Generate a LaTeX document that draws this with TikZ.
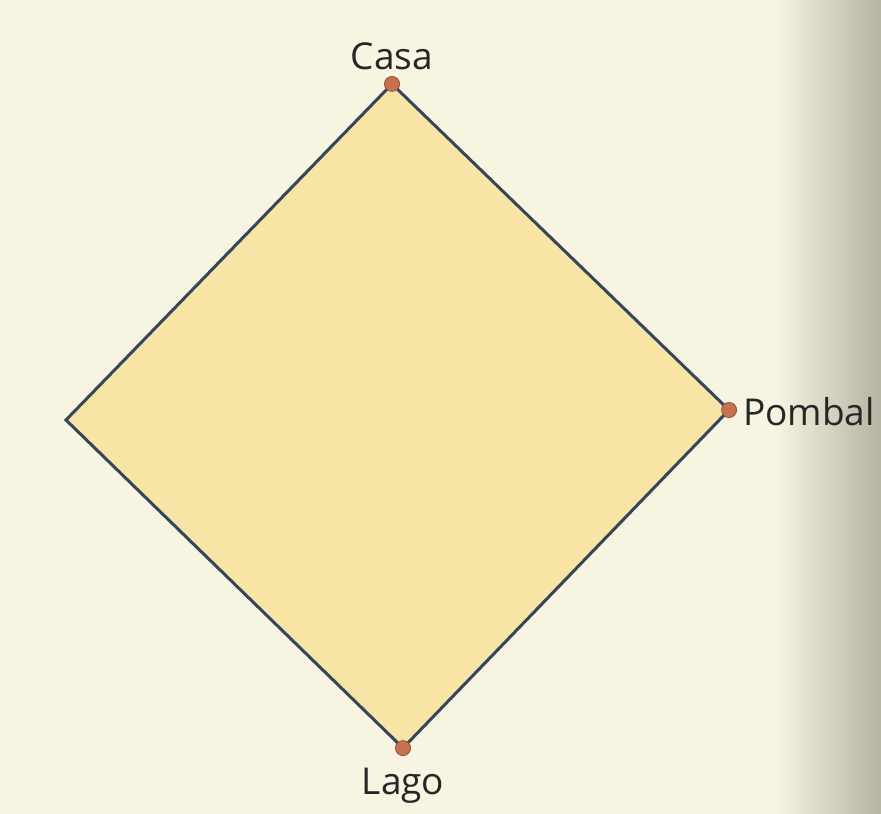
\documentclass[tikz,border=0pt]{standalone}
\usepackage{fontspec}
\setmainfont{Open Sans}
\definecolor{paper}{HTML}{F7F4E1}
\definecolor{fillc}{HTML}{F8E4A4}
\definecolor{edgec}{HTML}{34465A}
\definecolor{dotc}{HTML}{C8714F}
\definecolor{shadowc}{HTML}{B6B4A0}
\begin{document}
\begin{tikzpicture}[x=1pt,y=-1pt,
  place/.style={circle,fill=dotc,draw=dotc!70!black,line width=0.6pt,inner sep=0pt,minimum size=15pt},
  lbl/.style={font=\fontsize{37}{40}\selectfont,text=black!85,inner sep=0pt}]
\useasboundingbox (0,0) rectangle (881,814);
\fill[paper] (0,0) rectangle (881,814);
\shade[left color=paper,right color=shadowc] (775,0) rectangle (881,814);
\coordinate (L) at (66,420);
\node[place] (casa) at (392,84) {};
\node[place] (pombal) at (729,410) {};
\node[place] (lago) at (403,748) {};
\fill[fillc] (casa.center) -- (pombal.center) -- (lago.center) -- (L) -- cycle;
\draw[edgec,line width=3pt,line join=miter] (casa.center) -- (pombal.center) -- (lago.center) -- (L) -- cycle;
\node[place] at (casa.center) {};
\node[place] at (pombal.center) {};
\node[place] at (lago.center) {};
\node[lbl,anchor=base] at (392,69) {Casa};
\node[lbl,anchor=base west] at (743,425) {Pombal};
\node[lbl,anchor=base] at (403,794) {Lago};
\end{tikzpicture}
\end{document}
